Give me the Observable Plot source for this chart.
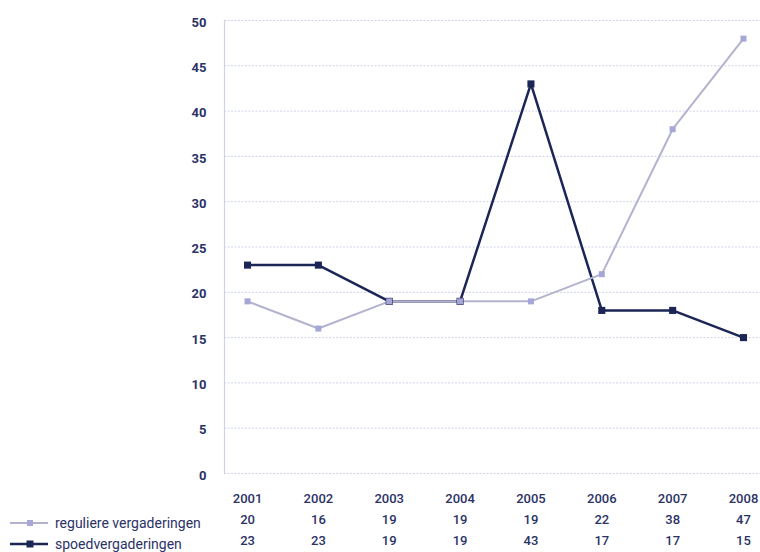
<!DOCTYPE html>
<html>
<head>
<meta charset="utf-8">
<script src="https://cdn.jsdelivr.net/npm/d3@7"></script>
<script src="https://cdn.jsdelivr.net/npm/@observablehq/plot@0.6"></script>
<style>
  html, body { margin: 0; padding: 0; background: #fff; }
  #wrap { position: relative; width: 760px; height: 552px; font-family: Roboto, "DejaVu Sans", sans-serif; }
  #legend { position: absolute; left: 10px; top: 512px; color: #2b3266; font-size: 14px; font-weight: 400; }
  .row { height: 21px; display: flex; align-items: center; }
  .row svg { margin-right: 7px; }
</style>
</head>
<body>
<div id="wrap">
  <div id="chart"></div>
  <div id="legend"></div>
</div>
<script>
const years = [2001, 2002, 2003, 2004, 2005, 2006, 2007, 2008];
// values as plotted in the chart
const regulierePlot = [19, 16, 19, 19, 19, 22, 38, 48];
const spoedPlot = [23, 23, 19, 19, 43, 18, 18, 15];
// values as printed in the table below the chart
const reguliereTable = [20, 16, 19, 19, 19, 22, 38, 47];
const spoedTable = [23, 23, 19, 19, 43, 17, 17, 15];
const seriesNames = ["reguliere vergaderingen", "spoedvergaderingen"];
const yTicks = [0, 5, 10, 15, 20, 25, 30, 35, 40, 45, 50];

const darkColor = "#1c2656";
const lightLine = "#b3b3cf";
const lightDot = "#a6a7d6";
const textColor = "#2b3266";
const gridColor = "#cfd2ec";

const reg = years.map((y, i) => ({year: y, value: regulierePlot[i]}));
const spo = years.map((y, i) => ({year: y, value: spoedPlot[i]}));

const xDomain = [2000.675, 2008.24];

const chart = Plot.plot({
  width: 760,
  height: 552,
  marginLeft: 224,
  marginRight: 0,
  marginTop: 20,
  marginBottom: 79,
  style: {fontFamily: "Roboto, 'DejaVu Sans', sans-serif", color: textColor, background: "#fff"},
  x: {type: "linear", domain: xDomain, axis: null},
  y: {domain: [0, 50], axis: null},
  marks: [
    Plot.ruleY(yTicks, {stroke: gridColor, strokeWidth: 1, strokeDasharray: "2,1.5"}),
    Plot.ruleX([xDomain[0]], {stroke: gridColor, strokeWidth: 1.2}),
    Plot.axisY({ticks: yTicks, label: null, tickSize: 0, tickPadding: 18, fontSize: 13, fontWeight: "bold", fill: textColor, dy: 2}),
    Plot.line(spo, {x: "year", y: "value", stroke: darkColor, strokeWidth: 2.5}),
    Plot.line(reg, {x: "year", y: "value", stroke: lightLine, strokeWidth: 2}),
    Plot.dot(spo, {x: "year", y: "value", symbol: "square", r: 4, fill: darkColor, stroke: "none"}),
    Plot.dot(reg, {x: "year", y: "value", symbol: "square", r: 3.4, fill: lightDot, stroke: "none"}),
    Plot.text(years, {x: d => d, text: d => String(d), frameAnchor: "bottom", dy: 29, fontSize: 13, fontWeight: 500, fill: textColor}),
    Plot.text(years.map((y, i) => ({year: y, t: reguliereTable[i]})), {x: "year", text: d => String(d.t), frameAnchor: "bottom", dy: 50, fontSize: 13, fontWeight: 500, fill: textColor}),
    Plot.text(years.map((y, i) => ({year: y, t: spoedTable[i]})), {x: "year", text: d => String(d.t), frameAnchor: "bottom", dy: 71, fontSize: 13, fontWeight: 500, fill: textColor})
  ]
});
document.getElementById("chart").appendChild(chart);

const legend = document.getElementById("legend");
const legendStyles = [
  {line: lightLine, dot: lightDot, lw: 2, s: 6},
  {line: darkColor, dot: darkColor, lw: 2.5, s: 7}
];
seriesNames.forEach((name, i) => {
  const st = legendStyles[i];
  const row = document.createElement("div");
  row.className = "row";
  row.innerHTML = `<svg width="38" height="12"><line x1="0" x2="38" y1="6" y2="6" stroke="${st.line}" stroke-width="${st.lw}"/><rect x="${20 - st.s / 2}" y="${6 - st.s / 2}" width="${st.s}" height="${st.s}" fill="${st.dot}"/></svg><span>${name}</span>`;
  legend.appendChild(row);
});
</script>
</body>
</html>
